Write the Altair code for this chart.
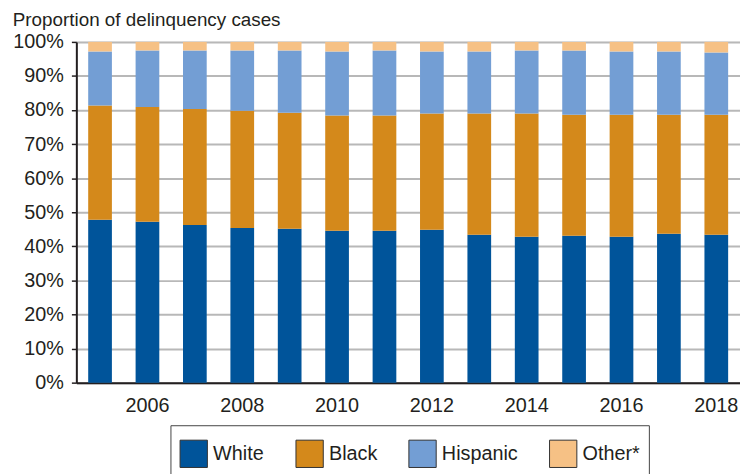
import altair as alt
import pandas as pd

years = list(range(2005, 2019))
white = [47.8, 47.2, 46.3, 45.4, 45.2, 44.6, 44.6, 44.9, 43.4, 42.8, 43.1, 42.8, 43.7, 43.4]
black = [33.5, 33.7, 34.0, 34.4, 34.0, 33.8, 33.8, 34.1, 35.6, 36.2, 35.5, 35.8, 34.9, 35.2]
hispanic = [15.9, 16.6, 17.2, 17.7, 18.3, 18.8, 19.1, 18.2, 18.2, 18.5, 18.9, 18.6, 18.6, 18.3]
other = [2.8, 2.5, 2.5, 2.5, 2.5, 2.8, 2.5, 2.8, 2.8, 2.5, 2.5, 2.8, 2.8, 3.1]

groups = ["White", "Black", "Hispanic", "Other*"]
colors = ["#00549A", "#D4891B", "#739ED4", "#F6C185"]

rows = []
for i, y in enumerate(years):
    for k, (g, vals) in enumerate(zip(groups, [white, black, hispanic, other])):
        rows.append({"year": y, "group": g, "value": vals[i] / 100.0, "idx": k})
df = pd.DataFrame(rows)

FONT = "Liberation Sans"
TXT = "#231f20"

chart = alt.Chart(df).mark_bar().encode(
    x=alt.X("year:O",
            scale=alt.Scale(paddingInner=0.5, paddingOuter=0.25),
            axis=alt.Axis(title=None, labelAngle=0, ticks=False, labelPadding=13,
                          labelExpr="datum.value % 2 == 0 ? datum.label : ''",
                          domainColor=TXT, domainWidth=2, grid=False,
                          labelFontSize=20, labelColor=TXT, labelFont=FONT)),
    y=alt.Y("value:Q", stack="zero",
            scale=alt.Scale(domain=[0, 1], nice=False),
            axis=alt.Axis(title=None, format=".0%",
                          values=[i / 10 for i in range(11)],
                          tickSize=5, tickColor=TXT, tickWidth=1.5,
                          domainColor=TXT, domainWidth=2,
                          gridColor="#b8b8b8", gridWidth=2,
                          labelPadding=8, labelFontSize=20, labelColor=TXT, labelFont=FONT)),
    color=alt.Color("group:N",
                    scale=alt.Scale(domain=groups, range=colors),
                    legend=alt.Legend(title=" ", titleFontSize=1, titlePadding=4,
                                      orient="none", direction="horizontal",
                                      legendX=95, legendY=387,
                                      symbolType="square", symbolSize=760,
                                      symbolStrokeColor="#333333", symbolStrokeWidth=1,
                                      labelFontSize=20, labelColor=TXT, labelFont=FONT,
                                      labelOffset=5, columnPadding=29,
                                      padding=9, strokeColor="#444444",
                                      fillColor="white")),
    order=alt.Order("idx:Q", sort="ascending"),
).properties(
    width=670,
    height=344,
    title=alt.Title("Proportion of delinquency cases", anchor="start", frame="bounds",
                    fontSize=19, font=FONT, color=TXT, fontWeight="normal", offset=2),
    autosize=alt.AutoSizeParams(type="none"),
    padding={"left": 69, "top": 32, "right": 0, "bottom": 90},
).configure_view(
    stroke="#c8c8c8", strokeWidth=1
)

chart.save("out.html", embed_options={"renderer": "svg", "actions": False})
